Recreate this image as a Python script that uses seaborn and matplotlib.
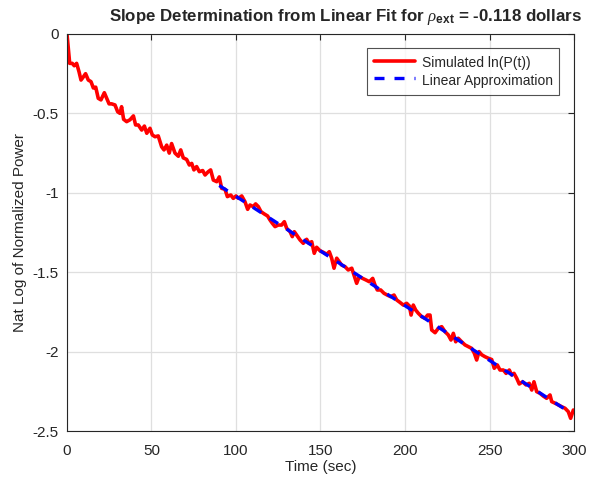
import numpy as np
import pandas as pd
import matplotlib
matplotlib.use('Agg')
import matplotlib.pyplot as plt
import seaborn as sns

# values
time_sec = [0, 1.6, 3.1, 4.3, 5.7, 7.1, 8.3, 9.7, 11.0, 12.6, 14.2, 15.6, 17.0, 18.5, 20.1,
            22.1, 23.5, 24.9, 26.4, 28.4, 30.0, 31.4, 32.3, 33.5, 35.3, 37.3, 39.3, 40.6,
            42.2, 44.2, 45.8, 47.2, 49.1, 50.5, 52.1, 54.0, 56.0, 57.4, 59.0, 60.5, 61.9,
            63.9, 65.9, 67.3, 68.8, 70.8, 72.4, 73.8, 75.1, 76.7, 78.3, 80.3, 81.7, 83.6,
            85.0, 86.6, 88.6, 90.1, 91.5, 93.5, 94.9, 96.9, 98.4, 100.0, 101.4, 103.4,
            105.3, 106.9, 108.3, 110.2, 111.6, 113.2, 114.8, 116.7, 118.7, 120.1, 121.5,
            123.1, 125.0, 127.0, 128.6, 130.0, 132.0, 133.3, 134.5, 135.9, 137.9, 139.8,
            141.8, 143.2, 144.8, 146.3, 147.7, 149.7, 151.7, 153.7, 155.2, 156.6, 158.0,
            159.6, 161.1, 162.5, 164.5, 166.4, 168.5, 169.8, 171.4, 172.9, 174.9, 176.9,
            178.9, 180.9, 182.2, 183.6, 185.6, 187.6, 189.5, 191.5, 193.5, 195.1, 197.0,
            199.0, 201.0, 202.6, 203.6, 204.9, 206.3, 207.9, 209.9, 211.8, 213.4, 214.8,
            215.8, 217.8, 219.7, 221.7, 223.7, 225.6, 227.2, 228.6, 230.0, 231.5, 233.5,
            235.5, 237.5, 239.5, 241.0, 242.4, 243.8, 245.4, 247.3, 249.3, 251.3, 252.8,
            254.6, 256.2, 258.2, 259.8, 261.7, 263.1, 264.5, 266.1, 267.6, 269.6, 271.6,
            273.5, 275.0, 276.3, 277.9, 279.9, 281.8, 283.8, 285.8, 286.8, 288.8, 290.7,
            292.7, 294.7, 296.6, 298.0, 299.6, 300.0]
log_power = [0.0, -0.185, -0.185, -0.20, -0.185, -0.237, -0.29, -0.27, -0.25, -0.29, -0.30,
             -0.34, -0.335, -0.405, -0.415, -0.37, -0.405, -0.44, -0.44, -0.447, -0.49, -0.50,
             -0.458, -0.537, -0.552, -0.54, -0.516, -0.573, -0.573, -0.605, -0.58, -0.625,
             -0.594, -0.636, -0.647, -0.642, -0.71, -0.73, -0.70, -0.75, -0.69, -0.75, -0.77,
             -0.73, -0.78, -0.79, -0.825, -0.815, -0.856, -0.835, -0.867, -0.86, -0.888,
             -0.867, -0.856, -0.92, -0.93, -0.90, -0.972, -0.978, -1.024, -1.014, -1.035,
             -1.02, -1.035, -1.02, -1.056, -1.104, -1.077, -1.087, -1.07, -1.087, -1.119,
             -1.133, -1.146, -1.171, -1.192, -1.213, -1.203, -1.203, -1.182, -1.224, -1.245,
             -1.276, -1.245, -1.266, -1.297, -1.318, -1.293, -1.318, -1.308, -1.381, -1.343,
             -1.365, -1.375, -1.387, -1.371, -1.412, -1.475, -1.412, -1.434, -1.455, -1.465,
             -1.486, -1.475, -1.518, -1.57, -1.528, -1.539, -1.549, -1.56, -1.539, -1.58,
             -1.612, -1.612, -1.633, -1.644, -1.654, -1.644, -1.675, -1.69, -1.707, -1.696,
             -1.713, -1.77, -1.707, -1.738, -1.759, -1.78, -1.79, -1.77, -1.77, -1.864,
             -1.881, -1.853, -1.843, -1.875, -1.895, -1.927, -1.885, -1.938, -1.916, -1.938,
             -1.958, -1.969, -1.98, -2.01, -2.053, -2.0, -2.02, -2.032, -2.042, -2.05,
             -2.105, -2.084, -2.116, -2.116, -2.137, -2.116, -2.147, -2.137, -2.168, -2.204,
             -2.19, -2.21, -2.2, -2.242, -2.19, -2.252, -2.263, -2.28, -2.294, -2.273,
             -2.315, -2.325, -2.336, -2.347, -2.357, -2.378, -2.42, -2.368, -2.37]
fit_start, fit_end = 90, 297

sim = pd.DataFrame({'t': time_sec, 'lnP': log_power})

# linear fit on the later part of the run
mask = (sim['t'] >= fit_start) & (sim['t'] <= fit_end)
slope, intercept = np.polyfit(sim.loc[mask, 't'], sim.loc[mask, 'lnP'], 1)
fit = pd.DataFrame({'t': sim.loc[mask, 't']})
fit['lnP'] = slope * fit['t'] + intercept

sns.set_style('white')
plt.rcParams['font.family'] = ['Liberation Sans', 'DejaVu Sans']
plt.rcParams['mathtext.fontset'] = 'custom'
plt.rcParams['mathtext.it'] = 'Liberation Serif:italic'
plt.rcParams['mathtext.bf'] = 'Liberation Sans:bold'
plt.rcParams['mathtext.rm'] = 'Liberation Sans'

fig = plt.figure(figsize=(5.97, 4.84), dpi=100)
ax = fig.add_axes([0.1122, 0.1095, 0.8493, 0.8203])

sns.lineplot(data=sim, x='t', y='lnP', ax=ax, color='#ff0000', linewidth=2.6,
             label='Simulated ln(P(t))')
sns.lineplot(data=fit, x='t', y='lnP', ax=ax, color='#0000ff', linewidth=2.4,
             linestyle=(0, (3, 3)), label='Linear Approximation')

ax.set_xlim(0, 300)
ax.set_ylim(-2.5, 0)
ax.set_xticks(np.arange(0, 301, 50))
ax.set_yticks(np.arange(-2.5, 0.01, 0.5))
ax.set_yticklabels(['-2.5', '-2', '-1.5', '-1', '-0.5', '0'])
ax.grid(True, color='#dfdfdf', linewidth=0.9)
ax.set_axisbelow(True)
for s in ax.spines.values():
    s.set_color('#262626')
    s.set_linewidth(0.8)
ax.tick_params(direction='in', top=True, right=True, length=4, width=0.8,
               colors='#262626', labelsize=11)
ax.tick_params(axis='x', pad=9)
ax.tick_params(axis='y', pad=6)

ax.set_xlabel('Time (sec)', fontsize=11, color='#262626', labelpad=2)
ax.set_ylabel('Nat Log of Normalized Power', fontsize=11, color='#262626')
ax.set_title(r'Slope Determination from Linear Fit for $\rho_{\mathbf{ext}}$ = -0.118 dollars',
             fontsize=12.2, fontweight='bold', pad=9, x=0.55)

leg = ax.legend(loc='upper right', bbox_to_anchor=(0.970, 0.965), borderaxespad=0,
                fontsize=10, frameon=True, fancybox=False, handlelength=3.0,
                handleheight=1.5, handletextpad=0.45, borderpad=0.45, labelspacing=0.05)
leg.get_frame().set_edgecolor('#262626')
leg.get_frame().set_linewidth(0.8)

plt.savefig('out.png', dpi=100)
